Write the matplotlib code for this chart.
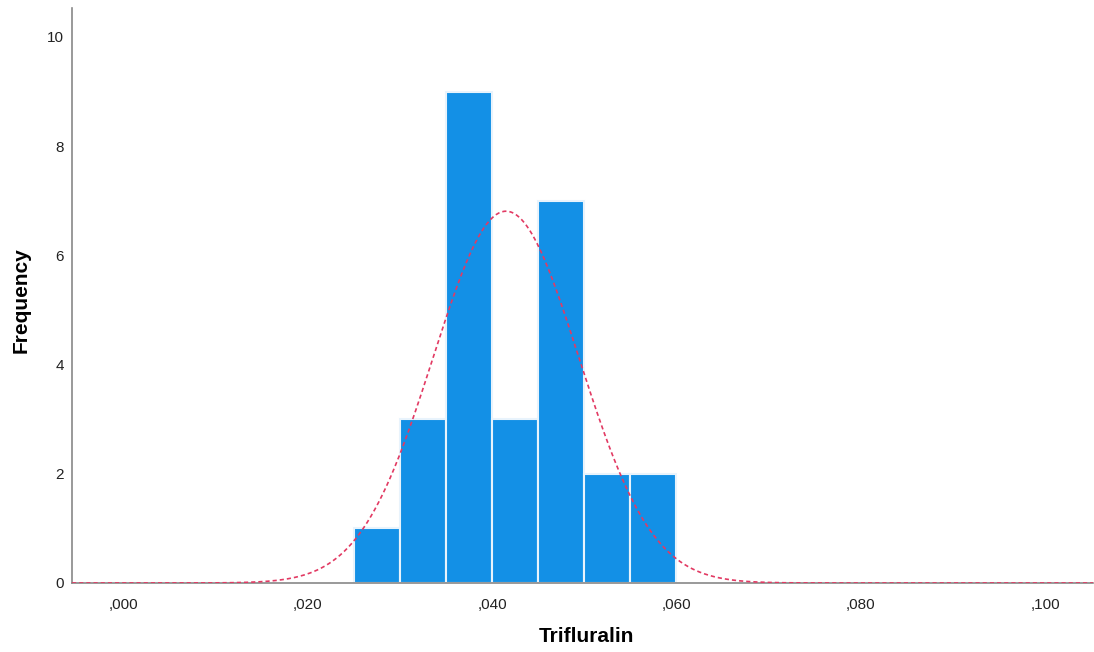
import numpy as np
import matplotlib
matplotlib.use("Agg")
import matplotlib.pyplot as plt

plt.rcParams['font.family'] = ['Liberation Sans', 'DejaVu Sans']

bin_edges = [0.025, 0.030, 0.035, 0.040, 0.045, 0.050, 0.055, 0.060]
counts = [1, 3, 9, 3, 7, 2, 2]
mean_val = 0.0415
std_val = 0.00791
n_total = sum(counts)
bin_width = 0.005
x_ticks = [0.0, 0.02, 0.04, 0.06, 0.08, 0.10]
x_tick_labels = [",000", ",020", ",040", ",060", ",080", ",100"]
y_ticks = [0, 2, 4, 6, 8, 10]

W, H = 1094, 652
fig = plt.figure(figsize=(W / 100, H / 100), dpi=100)
ax = fig.add_axes([72 / W, 1 - 583 / H, (1093 - 72) / W, (583 - 8) / H])

lefts = np.array(bin_edges[:-1])
widths = np.diff(bin_edges)
ax.bar(lefts, counts, width=widths, align='edge', color='#1390E6',
       edgecolor='#E8F3FC', linewidth=1.5, zorder=2)

xs = np.linspace(-0.0056, 0.1052, 800)
ys = n_total * bin_width / (std_val * np.sqrt(2 * np.pi)) * np.exp(-0.5 * ((xs - mean_val) / std_val) ** 2)
ax.plot(xs, ys, color='#E23A63', linestyle=(0, (2.5, 1.8)), linewidth=1.2, zorder=3)

ax.set_xlim(-0.0056, 0.1052)
ax.set_ylim(0, 10.53)
ax.set_xticks(x_ticks)
ax.set_xticklabels(x_tick_labels)
ax.set_yticks(y_ticks)
ax.tick_params(axis='both', length=0, labelsize=11, colors='#222222')
ax.tick_params(axis='x', pad=11)
ax.tick_params(axis='y', pad=6)

for s in ['top', 'right']:
    ax.spines[s].set_visible(False)
for s in ['left', 'bottom']:
    ax.spines[s].set_color('#888888')
    ax.spines[s].set_linewidth(1.2)

fig.text(586 / W, 1 - 637 / H, 'Trifluralin', fontsize=15, fontweight='bold',
         ha='center', va='center')
fig.text(21 / W, 1 - 300 / H, 'Frequency', fontsize=15, fontweight='bold',
         ha='center', va='center', rotation=90)

fig.savefig('out.png', dpi=100, facecolor='white')
